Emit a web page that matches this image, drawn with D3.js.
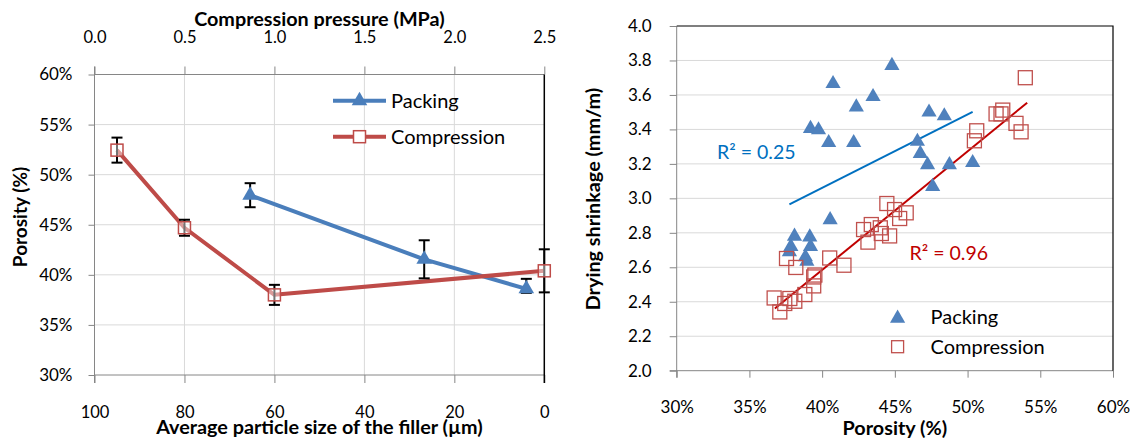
<!DOCTYPE html>
<html><head><meta charset="utf-8">
<script src="https://cdn.jsdelivr.net/npm/d3@7"></script>
<style>body{margin:0;background:#fff} text{font-family:Lato,sans-serif;fill:#000}</style>
</head><body><svg id="c" width="1136" height="439"></svg>
<script>
// ---------- Left chart data ----------
const sizeTicks = [100, 80, 60, 40, 20, 0];
const pressTicks = [0, 0.5, 1.0, 1.5, 2.0, 2.5];
const porTicksL = [30, 35, 40, 45, 50, 55, 60];
const packSize = [65.4, 26.7, 4];
const packPor = [47.95, 41.55, 38.6];
const packErrPlus = [1.2, 1.9, 1.0];
const packErrMinus = [1.2, 1.9, 0.4];
const compPress = [0.125, 0.5, 1.0, 2.5];
const compPor = [52.45, 44.7, 38.0, 40.4];
const compErr = [1.25, 0.8, 1.0, 2.15];
const seriesNames = ["Packing", "Compression"];

// ---------- Right chart data ----------
const shrTicks = [2.0, 2.2, 2.4, 2.6, 2.8, 3.0, 3.2, 3.4, 3.6, 3.8, 4.0];
const porTicksR = [30, 35, 40, 45, 50, 55, 60];
const packScatPor = [44.8, 40.75, 43.5, 42.35, 39.2, 39.75, 40.45, 42.17, 47.35, 48.4, 46.55, 46.75, 47.25, 48.75, 50.35, 47.6, 40.55, 38.1, 37.85, 39.15, 39.2, 38.85, 38.95, 37.75];
const packScatShr = [3.77, 3.665, 3.59, 3.53, 3.405, 3.397, 3.323, 3.323, 3.50, 3.478, 3.33, 3.26, 3.195, 3.195, 3.207, 3.068, 2.875, 2.78, 2.72, 2.775, 2.72, 2.66, 2.635, 2.69];
const compScatPor = [53.97, 51.96, 52.42, 52.3, 53.33, 53.68, 50.63, 50.47, 44.45, 44.98, 45.78, 45.33, 42.85, 43.38, 44.0, 44.07, 44.64, 43.15, 40.52, 41.5, 37.55, 38.19, 39.42, 39.5, 39.42, 38.81, 36.70, 37.78, 38.12, 37.43, 37.09];
const compScatShr = [3.70, 3.49, 3.512, 3.49, 3.435, 3.386, 3.392, 3.334, 2.970, 2.935, 2.916, 2.883, 2.819, 2.848, 2.829, 2.796, 2.782, 2.746, 2.654, 2.612, 2.651, 2.599, 2.544, 2.555, 2.492, 2.442, 2.422, 2.419, 2.403, 2.39, 2.341];
const packTrendPor = [37.75, 50.35];
const packTrendShr = [2.965, 3.502];
const compTrendPor = [36.75, 54.1];
const compTrendShr = [2.361, 3.555];
const r2Labels = ["R\u00B2 = 0.25", "R\u00B2 = 0.96"];

const svg = d3.select("#c");
const GRID = "#D9D9D9", AXIS = "#868686";
const BLUE = "#4A7EBB", RED = "#BE4B48";
const BLUE2 = "#4F81BD", RED2 = "#C0504D";
const SERIF = "'DejaVu Serif', serif";
const TITLE = 19.8, LEG = 20;

// ================= LEFT CHART =================
const L = {x0: 94.5, x1: 544.3, y0: 375, y1: 74.5};
const xSize = d3.scaleLinear().domain([100, 0]).range([L.x0, L.x1]);
const xPress = d3.scaleLinear().domain([0, 2.5]).range([L.x0, L.x1]);
const yPor = d3.scaleLinear().domain([30, 60]).range([L.y0, L.y1]);

const gl = svg.append("g");
gl.selectAll(".hg").data(porTicksL.filter(d => d > 30 && d < 60)).join("line")
  .attr("x1", L.x0).attr("x2", L.x1).attr("y1", d => yPor(d)).attr("y2", d => yPor(d))
  .attr("stroke", GRID).attr("stroke-width", 1);
gl.selectAll(".vg").data(sizeTicks.filter(d => d > 0 && d < 100)).join("line")
  .attr("x1", d => xSize(d)).attr("x2", d => xSize(d)).attr("y1", L.y1).attr("y2", L.y0)
  .attr("stroke", GRID).attr("stroke-width", 1);

const axL = gl.append("g").attr("transform", `translate(${L.x0},0)`)
  .call(d3.axisLeft(yPor).tickValues(porTicksL).tickFormat(d => d + "%").tickSize(6).tickPadding(16));
axL.select(".domain").remove();
axL.append("line").attr("x1", 0).attr("x2", 0).attr("y1", L.y1 - 8).attr("y2", L.y0 + 8).attr("stroke", AXIS);
axL.selectAll(".tick line").attr("stroke", AXIS);
axL.selectAll(".tick text").attr("font-family", "Lato").attr("font-size", 17).attr("fill", "#000");

const axB = gl.append("g").attr("transform", `translate(0,${L.y0})`)
  .call(d3.axisBottom(xSize).tickValues(sizeTicks).tickFormat(d3.format("d")).tickSize(8));
axB.select(".domain").remove();
axB.append("line").attr("x1", L.x0).attr("x2", L.x1).attr("y1", 0).attr("y2", 0).attr("stroke", AXIS);
axB.selectAll(".tick line").attr("stroke", AXIS);
axB.selectAll(".tick text").attr("font-family", SERIF).attr("font-size", 16.5).attr("fill", "#000")
  .attr("y", 37.5).attr("dy", "0.35em");

const axT = gl.append("g").attr("transform", `translate(0,${L.y1})`)
  .call(d3.axisTop(xPress).tickValues(pressTicks).tickFormat(d3.format(".1f")).tickSize(8));
axT.select(".domain").remove();
axT.append("line").attr("x1", L.x0).attr("x2", L.x1).attr("y1", 0).attr("y2", 0).attr("stroke", AXIS);
axT.selectAll(".tick line").attr("stroke", AXIS);
axT.selectAll(".tick text").attr("font-family", SERIF).attr("font-size", 16.5).attr("fill", "#000")
  .attr("y", -37.5).attr("dy", "0.35em");

gl.append("line").attr("x1", L.x1).attr("x2", L.x1).attr("y1", L.y1).attr("y2", L.y0 + 8)
  .attr("stroke", "#000").attr("stroke-width", 1.5);

gl.append("text").attr("x", (L.x0 + L.x1) / 2).attr("y", 19).attr("dy", "0.35em")
  .attr("text-anchor", "middle").attr("font-weight", "bold").attr("font-size", TITLE)
  .text("Compression pressure (MPa)");
gl.append("text").attr("x", (L.x0 + L.x1) / 2).attr("y", 427.5).attr("dy", "0.35em")
  .attr("text-anchor", "middle").attr("font-weight", "bold").attr("font-size", TITLE)
  .text("Average particle size of the filler (\u00B5m)");
gl.append("text").attr("transform", `translate(20.5,217) rotate(-90)`).attr("dy", "0.35em")
  .attr("text-anchor", "middle").attr("font-weight", "bold").attr("font-size", 19)
  .text("Porosity (%)");

const packPts = packSize.map((s, i) => ({x: xSize(s), y: yPor(packPor[i]), hi: yPor(packPor[i] + packErrPlus[i]), lo: yPor(packPor[i] - packErrMinus[i])}));
const compPts = compPress.map((p, i) => ({x: xPress(p), y: yPor(compPor[i]), hi: yPor(compPor[i] + compErr[i]), lo: yPor(compPor[i] - compErr[i])}));
const line = d3.line().x(d => d.x).y(d => d.y);
gl.append("path").attr("d", line(packPts)).attr("fill", "none").attr("stroke", BLUE).attr("stroke-width", 4).attr("stroke-linejoin", "round");
gl.append("path").attr("d", line(compPts)).attr("fill", "none").attr("stroke", RED).attr("stroke-width", 4).attr("stroke-linejoin", "round");

function errBars(pts) {
  const g = gl.append("g").attr("stroke", "#000").attr("stroke-width", 2);
  pts.forEach(p => {
    g.append("line").attr("x1", p.x).attr("x2", p.x).attr("y1", p.hi).attr("y2", p.lo);
    g.append("line").attr("x1", p.x - 5.5).attr("x2", p.x + 5.5).attr("y1", p.hi).attr("y2", p.hi);
    g.append("line").attr("x1", p.x - 5.5).attr("x2", p.x + 5.5).attr("y1", p.lo).attr("y2", p.lo);
  });
}
errBars(packPts);
errBars(compPts);

const tri = d3.symbol().type(d3.symbolTriangle);
gl.selectAll(".pm").data(packPts).join("path").attr("d", tri.size(105)())
  .attr("transform", d => `translate(${d.x},${d.y})`).attr("fill", BLUE);
gl.selectAll(".cm").data(compPts).join("rect")
  .attr("x", d => d.x - 6).attr("y", d => d.y - 6).attr("width", 12).attr("height", 12)
  .attr("fill", "rgba(255,255,255,0.45)").attr("stroke", RED).attr("stroke-width", 1.5);

const legL = gl.append("g");
[[100.7, BLUE, "tri"], [136.7, RED, "sq"]].forEach((r, i) => {
  legL.append("line").attr("x1", 333).attr("x2", 386).attr("y1", r[0]).attr("y2", r[0]).attr("stroke", r[1]).attr("stroke-width", 4);
  if (r[2] === "tri") legL.append("path").attr("d", tri.size(105)()).attr("transform", `translate(359.5,${r[0]})`).attr("fill", BLUE);
  else legL.append("rect").attr("x", 353.5).attr("y", r[0] - 6).attr("width", 12).attr("height", 12).attr("fill", "#fff").attr("stroke", RED).attr("stroke-width", 1.5);
  legL.append("text").attr("x", 391).attr("y", r[0]).attr("dy", "0.35em").attr("font-size", LEG).text(seriesNames[i]);
});

// ================= RIGHT CHART =================
const R = {x0: 676.7, x1: 1113, y0: 370.7, y1: 26};
const xR = d3.scaleLinear().domain([30, 60]).range([R.x0, R.x1]);
const yR = d3.scaleLinear().domain([2.0, 4.0]).range([R.y0, R.y1]);
const gr = svg.append("g");
gr.selectAll(".hg").data(shrTicks.filter(d => d > 2 && d < 4)).join("line")
  .attr("x1", R.x0).attr("x2", R.x1).attr("y1", d => yR(d)).attr("y2", d => yR(d))
  .attr("stroke", GRID).attr("stroke-width", 1);

const ayR = gr.append("g").attr("transform", `translate(${R.x0},0)`)
  .call(d3.axisLeft(yR).tickValues(shrTicks).tickFormat(d3.format(".1f")).tickSize(7).tickPadding(18));
ayR.select(".domain").remove();
ayR.append("line").attr("x1", 0).attr("x2", 0).attr("y1", R.y1).attr("y2", R.y0 + 7).attr("stroke", AXIS);
ayR.selectAll(".tick line").attr("stroke", AXIS);
ayR.selectAll(".tick text").attr("font-family", "Lato").attr("font-size", 17).attr("fill", "#000");

const axR = gr.append("g").attr("transform", `translate(0,${R.y0})`)
  .call(d3.axisBottom(xR).tickValues(porTicksR).tickFormat(d => d + "%").tickSize(7));
axR.select(".domain").remove();
axR.append("line").attr("x1", R.x0 - 7).attr("x2", R.x1).attr("y1", 0).attr("y2", 0).attr("stroke", AXIS);
axR.selectAll(".tick line").attr("stroke", AXIS);
axR.selectAll(".tick text").attr("font-family", "Lato").attr("font-size", 17).attr("fill", "#000")
  .attr("y", 36.5).attr("dy", "0.35em");

gr.append("path").attr("d", `M${R.x0},${R.y1}H${R.x1}V${R.y0}`).attr("fill", "none").attr("stroke", "#000").attr("stroke-width", 1.2);

gr.append("text").attr("x", (R.x0 + R.x1) / 2).attr("y", 428).attr("dy", "0.35em")
  .attr("text-anchor", "middle").attr("font-weight", "bold").attr("font-size", TITLE).text("Porosity (%)");
gr.append("text").attr("transform", `translate(593,199) rotate(-90)`).attr("dy", "0.35em")
  .attr("text-anchor", "middle").attr("font-weight", "bold").attr("font-size", TITLE).text("Drying shrinkage (mm/m)");

gr.append("line").attr("x1", xR(packTrendPor[0])).attr("y1", yR(packTrendShr[0]))
  .attr("x2", xR(packTrendPor[1])).attr("y2", yR(packTrendShr[1])).attr("stroke", "#0070C0").attr("stroke-width", 2);
gr.append("line").attr("x1", xR(compTrendPor[0])).attr("y1", yR(compTrendShr[0]))
  .attr("x2", xR(compTrendPor[1])).attr("y2", yR(compTrendShr[1])).attr("stroke", "#C00000").attr("stroke-width", 2);

gr.selectAll(".ps").data(packScatPor.map((p, i) => [p, packScatShr[i]])).join("path")
  .attr("d", tri.size(100)()).attr("transform", d => `translate(${xR(d[0])},${yR(d[1])})`).attr("fill", BLUE2);
gr.selectAll(".cs").data(compScatPor.map((p, i) => [p, compScatShr[i]])).join("rect")
  .attr("x", d => xR(d[0]) - 7).attr("y", d => yR(d[1]) - 7).attr("width", 14).attr("height", 14)
  .attr("fill", "none").attr("stroke", RED2).attr("stroke-width", 1.3);

gr.append("text").attr("x", 717).attr("y", 151.7).attr("dy", "0.35em").attr("font-size", 19.5).style("fill", "#0070C0").text(r2Labels[0]);
gr.append("text").attr("x", 909.5).attr("y", 253.3).attr("dy", "0.35em").attr("font-size", 19.5).style("fill", "#C00000").text(r2Labels[1]);

gr.append("path").attr("d", tri.size(100)()).attr("transform", "translate(897.6,318.3)").attr("fill", BLUE2);
gr.append("rect").attr("x", 891.6).attr("y", 340.7).attr("width", 12).attr("height", 12).attr("fill", "none").attr("stroke", RED2).attr("stroke-width", 1.3);
gr.append("text").attr("x", 930.5).attr("y", 317).attr("dy", "0.35em").attr("font-size", LEG).text(seriesNames[0]);
gr.append("text").attr("x", 930.5).attr("y", 347).attr("dy", "0.35em").attr("font-size", LEG).text(seriesNames[1]);
</script></body></html>
